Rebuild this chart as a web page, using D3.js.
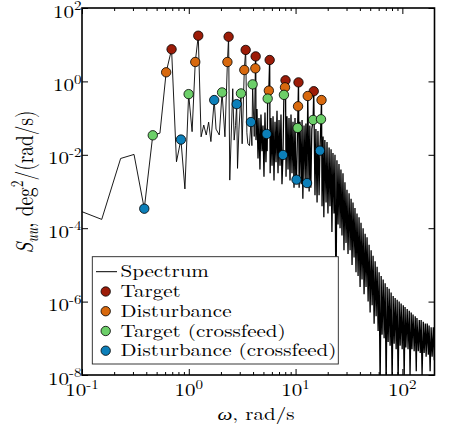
<!DOCTYPE html>
<html><head><meta charset="utf-8">
<script src="https://cdn.jsdelivr.net/npm/d3@7"></script>
<style>
body{margin:0;background:#fff}
svg{display:block}
</style>
</head><body>
<svg id="chart" width="453" height="432"></svg>
<script>
// ---------- data ----------
const xTickValues = [0.1, 1, 10, 100];
const xTickExponents = ["-1", "0", "1", "2"];
const yTickValues = [1e-8, 1e-6, 1e-4, 1e-2, 1, 1e2];
const yTickExponents = ["-8", "-6", "-4", "-2", "0", "2"];

const seriesNames = ["Target", "Disturbance", "Target (crossfeed)", "Disturbance (crossfeed)"];
const seriesColors = ["#9c1c08", "#d8690e", "#6ccf69", "#0c7fb9"];

const targetOmega = [0.690, 1.227, 2.36, 3.41, 4.23, 5.72, 8.05, 10.65, 14.8];
const targetPower = [7.5, 17.6, 16.5, 7.2, 4.8, 3.83, 1.07, 0.94, 0.54];

const disturbanceOmega = [0.614, 1.15, 2.30, 3.31, 4.20, 5.62, 7.96, 10.55, 13.0, 17.5];
const disturbancePower = [1.77, 3.38, 3.38, 2.05, 2.27, 0.56, 0.69, 0.21, 0.40, 0.31];

const targetCrossOmega = [0.460, 0.997, 2.05, 3.08, 3.96, 5.48, 7.78, 10.45, 14.6, 17.3];
const targetCrossPower = [0.034, 0.45, 0.50, 0.47, 0.83, 0.34, 0.43, 0.054, 0.089, 0.093];

const disturbanceCrossOmega = [0.383, 0.844, 1.73, 2.81, 3.82, 5.36, 7.62, 10.2, 12.8, 16.9];
const disturbanceCrossPower = [3.4e-4, 0.026, 0.31, 0.24, 0.078, 0.037, 0.0099, 0.0021, 0.0017, 0.013];

// remaining spectrum bins: [omega (rad/s), log10 power]
const spectrumBins = [
 [0.0767,-3.42],[0.153,-3.76],[0.230,-2.10],[0.307,-1.99],[0.537,-1.41],[0.767,-2.19],[0.920,-2.93],
 [1.074,-1.37],[1.304,-1.51],[1.381,-1.19],[1.457,-1.46],[1.534,-1.11],[1.611,-1.64],[1.80,-1.30],
 [1.93,-1.46],[2.18,-1.51],[2.42,-2.69],[2.58,-0.20],[2.66,-1.60],[2.74,-1.20],[2.86,-2.37],[2.95,-1.30],
 [3.16,-1.70],[3.50,-1.40],[3.57,-1.69],[3.70,-1.75],[3.90,-1.75],[4.10,-1.50],
 [4.26,-1.6],[4.35,-0.75],[4.45,-2.1],[4.54,-1.0],[4.64,-2.4],[4.74,-0.9],[4.85,-1.9],[4.95,-1.2],
 [5.06,-2.6],[5.17,-0.85],[5.28,-2.2],[5.42,-1.9],[5.78,-2.5],[5.89,-1.0],[6.02,-2.3],[6.15,-0.95],
 [6.28,-2.7],[6.42,-1.1],[6.56,-2.2],[6.70,-0.8],[6.85,-2.5],[7.00,-1.05],[7.15,-2.3],[7.30,-0.9],
 [7.46,-2.8],[8.14,-2.6],[8.31,-0.95],[8.50,-2.4],[8.68,-1.0],[8.87,-2.7],[9.06,-0.9],[9.26,-2.5],
 [9.46,-1.1],[9.67,-2.9],[9.88,-1.0],[10.05,-2.6],[10.8,-2.9],[11.0,-1.1],[11.3,-2.8],[11.5,-1.05],
 [11.7,-3.2],[12.0,-1.2],[12.3,-2.7],[12.5,-1.15],[13.4,-3.0],[13.6,-1.2],[13.9,-2.9],[14.2,-1.3],
 [15.2,-3.1],[15.5,-1.3],[15.9,-3.3],[16.2,-1.35],[16.6,-3.1],[17.7,-3.4],[18.1,-1.5],[18.4,-3.7],
 [18.8,-1.6],[19.3,-3.3],[19.7,-1.65],[20.1,-3.6],[20.6,-1.8],[21.0,-3.4],[21.5,-1.85],[21.9,-4.1],
 [22.4,-1.95],[22.9,-3.6],[23.4,-2.0],[23.9,-6.1],[24.4,-2.15],[25.0,-3.9],[25.5,-2.25],[26.1,-4.0],
 [26.6,-2.4],[27.2,-4.2],[27.8,-2.5],[28.4,-4.6],[29.0,-2.75],[29.7,-4.4],[30.3,-2.95],[31.0,-4.7],
 [31.7,-3.05],[32.4,-4.6],[33.1,-3.2],[33.8,-5.0],[34.5,-3.3],[35.3,-4.8],[36.0,-3.45],[36.8,-5.2],
 [37.6,-3.6],[38.5,-5.3],[39.3,-3.7],[40.2,-5.6],[41.0,-3.85],[41.9,-5.4],[42.9,-4.0],[43.8,-5.8],
 [44.8,-4.15],[45.7,-5.6],[46.7,-4.25],[47.8,-6.0],[48.8,-4.45],[49.9,-6.3],[51.0,-4.6],[52.1,-6.1],
 [53.2,-4.75],[54.4,-6.6],[55.6,-4.9],[56.8,-6.4],[58.0,-5.05],[59.3,-6.8],[60.6,-5.2],[61.9,-8.3],
 [63.3,-5.3],[64.6,-6.9],[66.1,-5.4],[67.5,-7.0],[69.0,-5.5],[70.5,-8.3],[72.0,-5.6],[73.6,-7.1],
 [75.2,-5.65],[76.8,-7.2],[78.5,-5.75],[80.2,-8.2],[82.0,-5.85],[83.8,-7.15],[85.6,-5.9],[87.5,-7.3],
 [89.4,-5.95],[91.3,-8.2],[93.3,-6.0],[95.4,-7.2],[97.4,-6.05],[99.6,-7.3],[102,-6.1],[104,-8.1],
 [106,-6.15],[108,-7.25],[111,-6.2],[113,-7.3],[116,-6.25],[118,-8.0],[121,-6.3],[123,-7.3],
 [126,-6.35],[129,-7.35],[132,-6.4],[135,-7.9],[137,-6.45],[141,-7.35],[144,-6.5],[147,-7.4],
 [150,-6.5],[153,-8.0],[157,-6.55],[160,-7.4],[164,-6.6],[167,-7.5],[171,-6.6],[175,-7.45],
 [178,-6.65],[182,-7.9],[186,-6.7],[190,-7.5],[195,-6.7],[199,-7.6],[203,-6.75]
];

// ---------- layout ----------
const FONT = '"Latin Modern Roman","Liberation Serif","DejaVu Serif"';
const svg = d3.select("#chart").attr("font-family", FONT);
const L = 82, R = 434.5, T = 8, B = 375;
const FS = 17.5;

const x = d3.scaleLog().domain([0.1, 200]).range([L, R]);
const y = d3.scaleLog().domain([1e-8, 1e2]).range([B, T]);

svg.append("rect").attr("width", 453).attr("height", 432).attr("fill", "#fff");

// measure the font to reproduce the reference's wide lettering
const probe = svg.append("text").attr("font-size", FS).attr("x", -500).attr("y", -500)
  .text("Disturbance (crossfeed)");
const SX = 216 / probe.node().getComputedTextLength();
probe.remove();

svg.append("clipPath").attr("id", "plotclip")
  .append("rect").attr("x", L).attr("y", T).attr("width", R - L).attr("height", B - T);

// series markers
const markerSeries = [
  {om: targetOmega, pw: targetPower},
  {om: disturbanceOmega, pw: disturbancePower},
  {om: targetCrossOmega, pw: targetCrossPower},
  {om: disturbanceCrossOmega, pw: disturbanceCrossPower}
].map((s, i) => s.om.map((w, j) => ({w, p: s.pw[j], c: seriesColors[i]})));

// spectrum line = all bins incl. the marked ones, sorted by frequency
const spectrumPoints = spectrumBins.map(d => ({w: d[0], p: Math.pow(10, d[1])}))
  .concat(...markerSeries)
  .sort((a, b) => a.w - b.w);

const line = d3.line().x(d => x(d.w)).y(d => y(d.p));
const gSpec = svg.append("g").attr("clip-path", "url(#plotclip)");
const splitW = 4.2;
gSpec.append("path")
  .datum(spectrumPoints.filter(d => d.w <= splitW + 0.05))
  .attr("fill", "none").attr("stroke", "#000").attr("stroke-width", 0.9)
  .attr("d", line);
gSpec.append("path")
  .datum(spectrumPoints.filter(d => d.w >= splitW))
  .attr("fill", "none").attr("stroke", "#000").attr("stroke-width", 1.3)
  .attr("d", line);

// minor ticks for x
const xMinor = [];
[0.1, 1, 10, 100].forEach(dec => { for (let k = 2; k <= 9; k++) { const v = k * dec; if (v < 200) xMinor.push(v); } });

function styleAxis(g) {
  g.select(".domain").remove();
  g.selectAll("line").attr("stroke", "#000").attr("stroke-width", 1);
}

const gB = svg.append("g").attr("transform", `translate(0,${B})`);
gB.append("g").call(d3.axisBottom(x).tickValues(xMinor).tickSize(-3).tickFormat("")).call(styleAxis);
gB.append("g").call(d3.axisBottom(x).tickValues(xTickValues).tickSize(-6).tickFormat("")).call(styleAxis);
const gT = svg.append("g").attr("transform", `translate(0,${T})`);
gT.append("g").call(d3.axisTop(x).tickValues(xMinor).tickSize(-3).tickFormat("")).call(styleAxis);
gT.append("g").call(d3.axisTop(x).tickValues(xTickValues).tickSize(-6).tickFormat("")).call(styleAxis);
const gL = svg.append("g").attr("transform", `translate(${L},0)`);
gL.append("g").call(d3.axisLeft(y).tickValues(yTickValues).tickSize(-6).tickFormat("")).call(styleAxis);
const gR = svg.append("g").attr("transform", `translate(${R},0)`);
gR.append("g").call(d3.axisRight(y).tickValues(yTickValues).tickSize(-6).tickFormat("")).call(styleAxis);

svg.append("rect").attr("x", L).attr("y", T).attr("width", R - L).attr("height", B - T)
  .attr("fill", "none").attr("stroke", "#000").attr("stroke-width", 1.6);

// tick labels
function powLabel(sel, exp, anchor) {
  sel.attr("text-anchor", anchor).attr("font-size", FS);
  sel.append("tspan").text("10");
  sel.append("tspan").attr("dy", -7.5).attr("font-size", 12.5).text(exp);
}
xTickValues.forEach((v, i) => {
  const t = svg.append("text").attr("transform", `translate(${x(v)},396) scale(${SX},1)`);
  powLabel(t, xTickExponents[i], "middle");
});
yTickValues.forEach((v, i) => {
  const t = svg.append("text").attr("transform", `translate(${L - 0.5},${y(v) + 9.6}) scale(${SX},1)`);
  powLabel(t, yTickExponents[i], "end");
});

// markers
markerSeries.forEach(s => {
  svg.append("g").selectAll("circle").data(s).join("circle")
    .attr("cx", d => x(d.w)).attr("cy", d => y(d.p)).attr("r", 4.7)
    .attr("fill", d => d.c).attr("stroke", "#000").attr("stroke-width", 0.8);
});

// axis titles
svg.append("text").attr("transform", `translate(256,420) scale(${SX},1)`)
  .attr("text-anchor", "middle").attr("font-size", FS)
  .call(t => {
    t.append("tspan").attr("font-style", "italic").text("ω");
    t.append("tspan").text(", rad/s");
  });

const yTitle = svg.append("text").attr("text-anchor", "middle").attr("font-size", 20)
  .call(t => {
    t.append("tspan").attr("font-style", "italic").text("S");
    t.append("tspan").attr("font-style", "italic").attr("font-size", 14).attr("dy", 4).text("uu");
    t.append("tspan").attr("dy", -4).text(", deg");
    t.append("tspan").attr("font-size", 14).attr("dy", -8).text("2");
    t.append("tspan").attr("dy", 8).text("/(rad/s)");
  });
const yLen = yTitle.node().getComputedTextLength();
yTitle.attr("transform", `translate(33,182) rotate(-90) scale(${143 / yLen},${SX})`);

// legend
const lg = svg.append("g");
lg.append("rect").attr("x", 92.3).attr("y", 256.7).attr("width", 246).attr("height", 107.3)
  .attr("fill", "#fff").attr("stroke", "#222").attr("stroke-width", 0.9);
const rowY = [271.7, 291.5, 311.2, 331, 350.7];
lg.append("line").attr("x1", 96).attr("x2", 117).attr("y1", rowY[0]).attr("y2", rowY[0])
  .attr("stroke", "#000").attr("stroke-width", 1);
lg.append("text").attr("transform", `translate(120.5,${rowY[0] + 5.5}) scale(${SX},1)`)
  .attr("font-size", FS).text("Spectrum");
seriesNames.forEach((n, i) => {
  lg.append("circle").attr("cx", 105.7).attr("cy", rowY[i + 1]).attr("r", 4.7)
    .attr("fill", seriesColors[i]).attr("stroke", "#000").attr("stroke-width", 0.8);
  lg.append("text").attr("transform", `translate(120.5,${rowY[i + 1] + 5.5}) scale(${SX},1)`)
    .attr("font-size", FS).text(n);
});
</script>
</body></html>
